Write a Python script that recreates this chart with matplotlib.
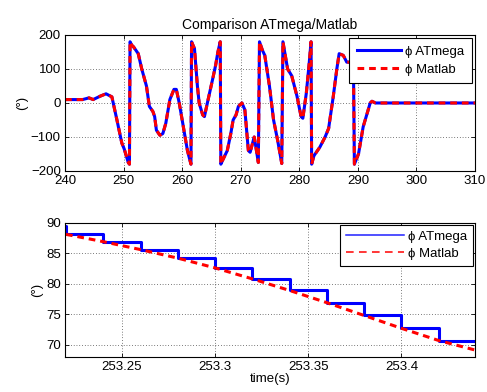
import matplotlib.pyplot as plt
import numpy as np
from matplotlib.lines import Line2D

plt.rcParams['font.family'] = ['Liberation Sans', 'DejaVu Sans']

# top chart: phi over the whole run
t_top = [240, 243, 244.1, 244.8, 246, 247, 248, 248.8, 249.7, 250.1, 250.8, 251.0,
         251.1, 251.4, 251.7, 252.5, 253.1, 253.9, 254.4, 255.0, 255.3, 255.6, 256.2,
         256.7, 257.2, 257.9, 258.6, 259.0, 259.5, 260.2, 260.9, 261.5,
         261.6, 262.1, 262.6, 262.9, 263.5, 263.8, 264.3, 265.2, 265.7, 266.1, 266.5,
         266.6, 267.0, 267.7, 268.3, 268.7, 269.2, 269.6, 270.2, 270.7, 271.3, 271.6,
         272.3, 272.4, 273.0,
         273.2, 273.7, 274.1, 274.9, 275.6, 276.3, 277.0,
         277.2, 278.0, 278.7, 279.6, 280.3, 280.6, 281.2, 281.7, 282.0,
         282.1, 282.5, 283.1, 283.5, 284.4, 285.0, 285.8, 286.4, 286.8, 287.5, 288.1,
         288.9, 289.2,
         289.4, 290.1, 290.9, 292.1, 292.4, 293.0, 300, 310]
phi_top = [10, 10, 15, 10, 20, 27, 18, -45, -118, -135, -175, -180,
           180, 170, 165, 145, 100, 50, -10, -25, -40, -80, -95,
           -90, -60, 10, 40, 40, 0, -70, -140, -180,
           180, 160, 50, 0, -35, -40, 0, 70, 110, 150, 180,
           -180, -165, -140, -90, -50, -35, -10, 0, -20, -140, -145,
           -100, -110, -175,
           180, 155, 140, 50, -50, -110, -178,
           180, 100, 80, 20, -40, -45, 30, 120, 180,
           -180, -155, -140, -130, -100, -75, 20, 100, 145, 140, 120,
           120, 178,
           -180, -150, -70, 0, 5, 0, 0, 0]

# bottom chart: zoom on a short window
t_bot = [253.20, 253.22, 253.24, 253.26, 253.28, 253.30, 253.32, 253.34,
         253.36, 253.38, 253.40, 253.42, 253.44]
phi_atmega = [89.4, 88.1, 86.9, 85.6, 84.2, 82.6, 80.8, 78.9,
              76.9, 74.8, 72.7, 70.7, 69.1]
phi_matlab = [89.4, 88.1, 86.9, 85.6, 84.2, 82.6, 80.8, 78.9,
              76.9, 74.8, 72.7, 70.7, 69.1]

fig = plt.figure(figsize=(4.87, 3.92), dpi=100)
ax1 = fig.add_axes([0.1335, 0.5638, 0.842, 0.347])
ax2 = fig.add_axes([0.1335, 0.0893, 0.842, 0.3425])

fs = 9.5

ax1.plot(t_top, phi_top, color='b', lw=2.2, label='\u03d5 ATmega')
ax1.plot(t_top, phi_top, color='r', lw=2.2, ls=(0, (2.2, 1.6)), label='\u03d5 Matlab')
ax1.set_xlim(240, 310)
ax1.set_ylim(-200, 200)
ax1.set_xticks(np.arange(240, 311, 10))
ax1.set_yticks([-200, -100, 0, 100, 200])
ax1.set_yticklabels(['\u2212200', '\u2212100', '0', '100', '200'])
ax1.set_title('Comparison ATmega/Matlab', fontsize=fs + 0.5, pad=4)
ax1.set_ylabel('(\u00b0)', fontsize=fs, labelpad=2)
leg1 = ax1.legend(loc='upper right', fontsize=fs, fancybox=False, edgecolor='k',
                  handlelength=3.4, handletextpad=0.3, borderaxespad=0.25,
                  framealpha=1, borderpad=0.55, labelspacing=0.45)
leg1.get_frame().set_linewidth(0.8)

ax2.plot(t_bot, phi_atmega, color='b', lw=2.2, drawstyle='steps-post')
ax2.plot(t_bot[1:], phi_matlab[1:], color='r', lw=2.2, ls=(0, (2.2, 1.6)))
ax2.set_xlim(253.2195, 253.4395)
ax2.set_ylim(68, 90)
ax2.set_xticks([253.25, 253.3, 253.35, 253.4])
ax2.set_xticklabels(['253.25', '253.3', '253.35', '253.4'])
ax2.set_yticks([70, 75, 80, 85, 90])
ax2.set_ylabel('(\u00b0)', fontsize=fs, labelpad=2)
ax2.set_xlabel('time(s)', fontsize=fs, labelpad=0)
handles = [Line2D([], [], color='#2020ff', lw=1.1),
           Line2D([], [], color='r', lw=1.1, ls=(0, (5, 3.5)))]
leg2 = ax2.legend(handles, ['\u03d5 ATmega', '\u03d5 Matlab'], loc='upper right',
                  fontsize=fs, fancybox=False, edgecolor='k', handlelength=4.4,
                  handletextpad=0.3, borderaxespad=0.15, framealpha=1,
                  borderpad=0.45, labelspacing=0.35)
leg2.get_frame().set_linewidth(0.8)

for ax in (ax1, ax2):
    ax.grid(True, color='k', ls=(0, (1, 3)), lw=0.5)
    ax.tick_params(direction='in', top=True, right=True, labelsize=fs,
                   length=3, width=0.6, pad=3)
    for s in ax.spines.values():
        s.set_linewidth(0.8)

plt.savefig('out.png', dpi=100)
